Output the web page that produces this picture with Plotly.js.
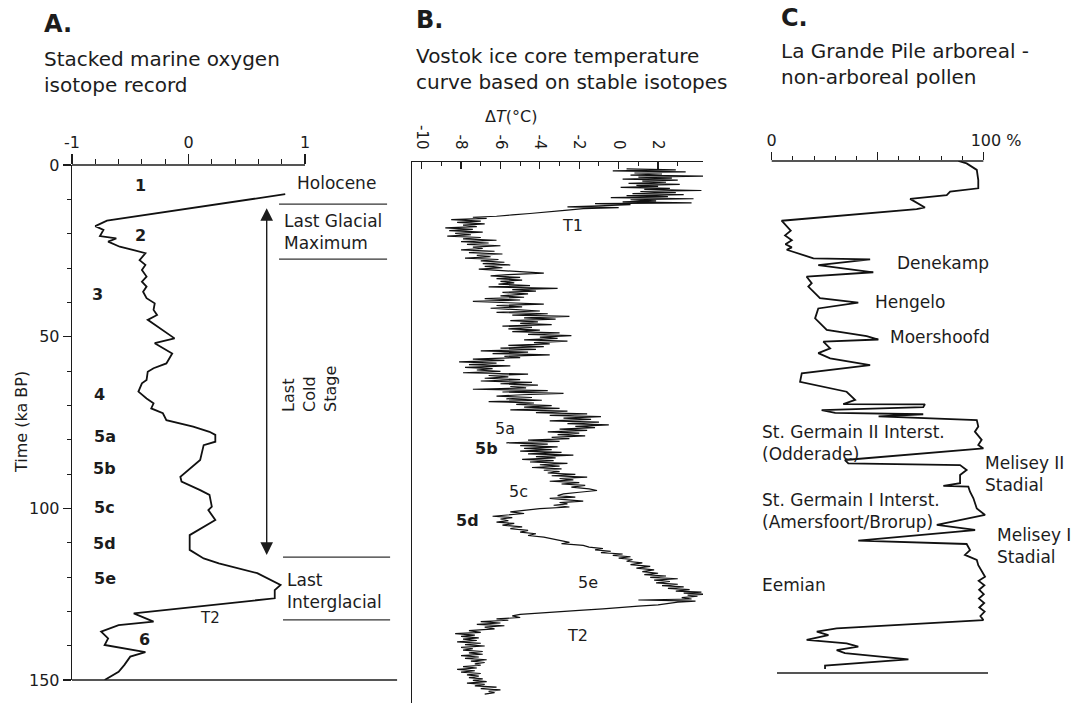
<!DOCTYPE html>
<html><head><meta charset="utf-8">
<script src="https://cdn.plot.ly/plotly-3.0.1.min.js"></script>
<style>html,body{margin:0;padding:0;background:#fff}#chart{width:1075px;height:703px}</style>
</head><body><div id="chart"></div>
<script>
// ---------- Panel A: stacked marine oxygen isotope record ----------
const isoAge = [
  8.5, 16.2, 17.8, 18.9, 20.7, 21.4, 22.3, 23.8, 24.8, 25.7,
  27.7, 29.1, 30.6, 32.5, 34.0, 35.4, 36.9, 38.8, 40.3, 42.2,
  43.7, 45.1, 50.5, 51.9, 54.9, 57.8, 59.2, 60.2, 62.6, 63.6,
  66.0, 68.0, 69.4, 70.9, 72.3, 74.3, 76.2, 77.7, 78.6, 80.6,
  81.6, 84.5, 85.9, 90.8, 92.2, 94.7, 96.1, 99.5, 100.5, 103.4,
  107.8, 112.1, 114.6, 116.0, 118.9, 122.3, 123.8, 126.2, 130.6, 133.0,
  134.0, 135.9, 137.9, 139.8, 141.9, 143.2, 145.6, 147.6, 150
];
const isoVal = [
  0.83, -0.70, -0.80, -0.73, -0.76, -0.62, -0.69, -0.59, -0.47, -0.37,
  -0.42, -0.37, -0.40, -0.36, -0.40, -0.36, -0.39, -0.36, -0.29, -0.30,
  -0.27, -0.35, -0.12, -0.29, -0.14, -0.19, -0.30, -0.35, -0.36, -0.40,
  -0.43, -0.36, -0.30, -0.32, -0.22, -0.19, 0.04, 0.18, 0.23, 0.23,
  0.13, 0.11, 0.10, -0.07, -0.06, 0.10, 0.18, 0.20, 0.17, 0.23,
  0.01, 0.01, 0.13, 0.26, 0.59, 0.79, 0.74, 0.74, -0.47, -0.30,
  -0.60, -0.75, -0.69, -0.72, -0.37, -0.50, -0.55, -0.60, -0.72
];
const isoTickVals = [-1, 0, 1];
const isoTickText = ['-1', '0', '1'];
const isoMinorVals = [-0.8, -0.6, -0.4, -0.2, 0.2, 0.4, 0.6, 0.8];
const timeTickVals = [0, 50, 100, 150];
const timeMinorVals = [10, 20, 30, 40, 60, 70, 80, 90, 110, 120, 130, 140];

// ---------- Panel B: Vostok temperature ----------
const vostokAge = [
  2.0,2.3,2.6,2.9,3.2,3.5,3.8,4.1,4.4,4.7,
  5.0,5.3,5.6,5.9,6.2,6.5,6.8,7.1,7.4,7.7,
  8.0,8.3,8.6,8.9,9.2,9.5,9.8,10.1,10.4,10.7,
  11.0,11.3,11.6,11.9,12.1,12.4,12.8,13.1,13.3,13.6,
  14.0,14.5,15.0,15.4,15.8,16.1,
  16.4,16.8,17.2,17.6,18.0,18.4,18.8,19.2,19.6,20.0,
  20.4,20.8,21.2,21.6,22.0,22.4,22.8,23.2,23.6,24.0,
  24.4,24.8,25.2,25.6,26.0,26.4,26.8,27.2,27.6,28.0,
  28.4,28.8,29.2,29.6,30.0,30.4,30.8,31.2,31.6,32.0,
  32.4,32.8,33.2,33.6,34.0,34.4,34.8,35.2,35.6,36.0,
  36.4,36.8,37.2,37.6,38.0,38.4,39.0,39.4,39.8,40.2,
  40.6,41.0,41.4,41.8,42.2,42.6,43.0,43.4,43.8,44.2,
  44.6,45.0,45.4,45.8,46.2,46.6,47.0,47.4,47.8,48.2,
  48.6,49.0,49.4,49.8,50.2,50.6,51.0,51.4,51.8,52.2,
  52.6,53.0,53.4,53.8,54.2,54.6,55.0,55.4,55.8,56.2,
  56.6,57.0,57.4,57.8,58.2,58.6,59.0,59.4,59.8,60.2,
  60.6,61.0,61.4,61.8,62.2,62.6,63.0,63.4,63.8,64.2,
  64.6,65.0,65.4,65.8,66.2,66.6,67.0,67.4,67.8,68.2,
  68.6,69.0,69.4,69.8,70.2,70.6,71.0,71.4,71.8,72.2,
  72.6,73.0,73.4,73.8,74.2,74.6,75.0,75.4,75.8,76.2,
  76.6,77.0,77.4,77.8,78.2,78.6,79.0,79.4,79.8,80.2,
  80.6,81.0,81.4,81.8,82.2,82.6,83.0,83.4,83.8,84.2,
  84.6,85.0,85.4,85.8,86.2,86.6,87.0,87.4,87.8,88.2,
  88.6,89.0,89.4,89.8,90.2,90.6,91.0,91.4,91.8,92.2,
  92.6,93.0,93.4,93.8,94.2,94.7,95.2,95.7,96.2,96.7,
  97.2,97.6,98.0,98.4,98.8,99.2,99.6,100.0,100.5,101.0,
  101.5,101.9,102.4,102.8,103.2,103.6,104.0,104.5,104.9,105.3,
  105.8,106.3,106.8,107.3,107.8,108.3,108.8,109.3,109.8,110.3,
  110.8,111.2,111.7,112.2,112.6,113.0,113.4,113.8,114.2,114.6,
  115.0,115.4,115.8,116.3,116.8,117.3,117.8,118.3,118.8,119.3,
  119.8,120.2,120.6,121.0,121.4,121.8,122.2,122.6,123.0,123.4,
  123.8,124.2,124.6,125.0,125.3,125.6,125.9,126.2,126.5,126.9,
  127.3,127.6,127.9,128.2,128.6,129.0,129.4,129.8,130.2,130.6,
  131.0,131.4,131.8,132.2,132.7,133.1,133.5,133.9,134.3,134.7,
  135.1,135.5,136.0,136.5,137.0,137.4,137.8,138.2,138.6,139.0,
  139.4,139.8,140.2,140.6,141.0,141.4,141.8,142.2,142.6,143.0,
  143.4,143.8,144.2,144.6,145.0,145.4,145.8,146.2,146.6,147.0,
  147.4,147.8,148.2,148.6,149.0,149.4,149.8,150.2,150.6,151.0,
  151.4,151.8,152.2,152.6,153.0,153.4,153.8,154.2,154.6,155.0
];
const vostokT = [
  0.4,2.9,-0.3,3.4,0.8,2.2,0.6,4.3,1.0,2.7,
  0.2,3.0,1.2,2.4,0.5,3.1,0.9,2.0,0.1,2.6,
  1.3,4.2,1.1,2.9,0.7,3.3,0.4,2.5,-0.4,3.8,
  0.6,1.9,0.2,3.7,-1.2,0.6,-1.0,-2.6,0.0,-1.8,
  -2.6,-3.8,-4.5,-5.4,-6.2,-7.4,
  -6.7,-8.5,-7.0,-8.2,-6.8,-7.9,-7.2,-8.8,-7.4,-8.6,
  -6.9,-8.3,-7.5,-8.7,-7.0,-7.9,-6.2,-8.0,-6.6,-7.7,
  -6.0,-7.4,-6.9,-8.0,-6.3,-7.6,-5.9,-7.2,-6.5,-7.8,
  -6.1,-7.0,-5.8,-6.9,-5.5,-6.8,-5.9,-7.1,-6.0,-5.2,
  -3.8,-5.6,-6.5,-5.0,-6.2,-4.9,-6.0,-5.3,-6.1,-4.5,
  -6.6,-3.1,-5.4,-4.2,-5.9,-4.6,-6.0,-4.8,-6.8,-5.0,
  -7.4,-5.6,-3.8,-6.2,-4.9,-6.5,-5.2,-4.0,-6.2,-3.6,
  -5.4,-2.5,-4.8,-3.2,-5.5,-4.1,-5.0,-3.4,-5.9,-4.4,
  -5.6,-4.0,-5.4,-3.0,-4.6,-2.4,-4.0,-3.1,-4.8,-2.6,
  -4.3,-3.5,-5.6,-3.8,-6.0,-4.2,-7.0,-4.6,-6.4,-3.5,
  -5.8,-5.0,-7.4,-5.8,-8.1,-6.2,-7.6,-5.5,-7.8,-6.4,
  -7.2,-6.0,-7.9,-4.6,-6.6,-5.6,-6.8,-5.0,-7.0,-4.4,
  -6.0,-4.1,-5.5,-4.7,-7.4,-3.6,-5.9,-2.8,-4.9,-6.2,
  -4.4,-5.7,-3.9,-6.6,-4.3,-5.2,-3.4,-4.8,-3.0,-5.5,
  -2.6,-4.2,-1.6,-3.5,-0.9,-2.8,-1.4,-3.5,-1.0,-2.6,
  -0.5,-2.2,-1.2,-3.0,-1.6,-3.6,-2.0,-3.1,-1.7,-3.4,
  -2.5,-4.6,-3.0,-5.7,-3.6,-5.0,-3.1,-4.8,-3.4,-5.0,
  -2.9,-4.6,-2.3,-4.2,-3.2,-4.9,-3.3,-4.5,-2.6,-4.0,
  -3.0,-4.4,-2.9,-3.8,-3.0,-3.6,-2.2,-3.4,-1.6,-3.0,
  -2.3,-3.5,-2.0,-2.9,-1.7,-2.4,-1.5,-1.1,-2.0,-2.8,
  -3.1,-2.2,-3.5,-2.4,-1.8,-3.0,-2.6,-3.3,-2.5,-4.0,
  -5.0,-5.5,-4.8,-5.7,-6.4,-5.4,-6.0,-5.6,-6.2,-5.3,
  -5.9,-4.9,-5.5,-4.6,-5.0,-4.2,-4.6,-3.8,-3.4,-3.0,
  -2.5,-2.9,-1.8,-1.5,-0.8,-1.2,-0.4,-0.9,0.2,-0.3,
  0.6,0.0,0.7,0.4,1.2,0.6,1.6,0.9,1.8,1.2,
  2.0,1.3,2.4,1.6,3.0,1.8,2.6,1.9,3.0,2.2,
  3.3,2.5,3.6,2.9,4.2,3.3,4.5,3.5,4.0,3.2,
  3.7,1.0,3.9,3.0,2.6,2.0,1.0,0.2,-0.8,-2.0,
  -3.2,-4.3,-5.0,-5.4,-5.0,-6.2,-5.6,-7.0,-6.0,-7.2,
  -5.8,-6.8,-6.3,-7.6,-7.0,-8.3,-7.3,-8.0,-7.1,-7.9,
  -7.2,-8.2,-7.0,-7.8,-6.8,-8.0,-7.4,-7.9,-6.9,-7.6,
  -6.9,-8.0,-7.1,-7.8,-6.7,-7.5,-6.8,-7.3,-7.0,-7.9,
  -7.2,-8.2,-7.3,-8.0,-7.0,-7.7,-7.1,-7.6,-6.9,-7.4,
  -6.7,-7.7,-6.8,-7.3,-6.2,-7.0,-6.0,-6.6,-6.3,-6.8
];
const tempTickVals = [-10, -8, -6, -4, -2, 0, 2];
const tempTickText = ['-10', '-8', '-6', '-4', '-2', '0', '2'];
const tempMinorVals = [-9, -7, -5, -3, -1, 1, 3];

// ---------- Panel C: La Grande Pile arboreal pollen ----------
const pollenAge = [
  0, 0.7, 2.6, 5.6, 8.0, 9.0, 10.0, 11.1, 13.6, 14.1,
  17.5, 20.4, 21.8, 23.2, 24.4, 25.3, 26.0, 27.0, 28.5, 28.8,
  30.5, 32.6, 33.9, 35.8, 36.8, 40.2, 41.5, 43.2, 46.1, 49.5,
  51.3, 52.3, 52.9, 54.9, 56.3, 57.8, 59.8, 62.2, 64.7, 67.6,
  70.0, 71.2, 71.3, 72.1, 73.0, 73.8, 74.2, 74.8, 75.9, 77.8,
  79.3, 81.7, 83.2, 84.2, 87.6, 88.6, 89.1, 90.5, 92.0, 94.4,
  95.2, 95.4, 96.9, 98.8, 101.8, 103.7, 106.6, 108.1, 108.6, 111.2,
  112.2, 114.0, 115.4, 116.9, 118.4, 121.8, 123.0, 124.3, 125.6, 126.9,
  128.2, 129.5, 130.8, 132.0, 133.3, 134.5, 136.9, 137.9, 138.9, 140.3,
  141.3, 142.3, 143.3, 144.2, 146.0, 147.8, 148.8
];
const pollenAP = [
  88.2, 92.1, 96.9, 97.6, 97.6, 84.3, 82.7, 65.4, 72.4, 68.5,
  4.7, 9.0, 6.3, 9.5, 6.5, 9.5, 7.1, 11.8, 19.7, 46.5,
  22.0, 48.0, 16.5, 18.9, 17.3, 22.8, 40.9, 22.0, 20.5, 26.0,
  44.9, 50.4, 24.4, 27.6, 22.0, 27.6, 46.5, 14.2, 13.4, 35.4,
  39.4, 33.8, 72.4, 71.6, 23.6, 30.0, 71.6, 50.5, 96.9, 97.6,
  96.0, 99.2, 97.6, 100.0, 34.6, 36.2, 89.0, 92.1, 89.0, 89.0,
  81.1, 92.9, 93.7, 95.3, 96.9, 100.8, 78.0, 96.1, 88.0, 40.9,
  92.1, 93.7, 91.3, 96.9, 97.6, 100.8, 97.8, 100.5, 98.0, 100.2,
  97.9, 100.4, 98.1, 100.6, 98.6, 100.0, 30.7, 21.3, 26.8, 16.5,
  35.4, 40.9, 30.7, 34.6, 64.6, 25.2, 25.2
];
const pollenTickVals = [0, 50, 100];
const pollenTickText = ['0', '', '\u2007\u2007\u00a0100\u00a0%'];
const pollenMinorVals = [10, 20, 30, 40, 60, 70, 80, 90];

// ---------- layout helpers ----------
const W = 1075, H = 703;
const dx = px => px / W;
const dy = py => 1 - py / H;
const FONT = 'DejaVu Sans';
const INK = '#1c1c1c';

const traces = [
  {x: isoVal, y: isoAge, xaxis: 'x', yaxis: 'y', type: 'scatter', mode: 'lines',
   line: {color: '#111', width: 1.8}, hoverinfo: 'skip'},
  {x: vostokT, y: vostokAge, xaxis: 'x2', yaxis: 'y2', type: 'scatter', mode: 'lines',
   line: {color: '#111', width: 1.2}, hoverinfo: 'skip'},
  {x: pollenAP, y: pollenAge, xaxis: 'x3', yaxis: 'y3', type: 'scatter', mode: 'lines',
   line: {color: '#111', width: 1.8}, hoverinfo: 'skip'}
];

const tickFont = {family: FONT, size: 16, color: INK};
const baseAx = {showgrid: false, zeroline: false, fixedrange: true, tickcolor: INK, linecolor: INK};

const layout = {
  width: W, height: H,
  margin: {l: 0, r: 0, t: 0, b: 0},
  paper_bgcolor: '#fff', plot_bgcolor: 'rgba(0,0,0,0)',
  showlegend: false,
  font: {family: FONT, color: INK},
  xaxis: Object.assign({}, baseAx, {
    domain: [dx(72), dx(400)], range: [-1, 1.815], anchor: 'y', side: 'top',
    showline: false, ticks: 'outside', tickmode: 'array',
    tickvals: isoTickVals, ticktext: isoTickText, ticklen: 10, tickwidth: 1.2,
    tickfont: tickFont,
    minor: {tickmode: 'array', tickvals: isoMinorVals, ticks: 'outside', ticklen: 5, tickwidth: 1, tickcolor: INK, showgrid: false}
  }),
  yaxis: Object.assign({}, baseAx, {
    domain: [dy(680), dy(165)], range: [150, 0], anchor: 'x',
    showline: true, linewidth: 1.3, ticks: 'outside', tickmode: 'array',
    tickvals: timeTickVals, ticklen: 8, tickwidth: 1.2, tickfont: tickFont,
    minor: {tickmode: 'array', tickvals: timeMinorVals, ticks: 'outside', ticklen: 4, tickwidth: 1, tickcolor: INK, showgrid: false}
  }),
  xaxis2: Object.assign({}, baseAx, {
    domain: [dx(412), dx(703)], range: [-10.49, 4.28], anchor: 'y2', side: 'top',
    showline: true, linewidth: 1.3, ticks: 'inside', tickmode: 'array',
    tickvals: tempTickVals, ticktext: tempTickText, tickangle: 90, ticklen: 7, tickwidth: 1.2,
    tickfont: {family: FONT, size: 15, color: INK}, ticklabelstandoff: 6,
    minor: {tickmode: 'array', tickvals: tempMinorVals, ticks: 'inside', ticklen: 4, tickwidth: 1, tickcolor: INK, showgrid: false}
  }),
  yaxis2: Object.assign({}, baseAx, {
    domain: [0, dy(162)], range: [157.6, 0], anchor: 'x2',
    showline: true, linewidth: 1.3, ticks: '', showticklabels: false
  }),
  xaxis3: Object.assign({}, baseAx, {
    domain: [dx(740), 1], range: [-14.98, 143.3], anchor: 'y3', side: 'top',
    showline: false, ticks: 'outside', tickmode: 'array',
    tickvals: pollenTickVals, ticktext: pollenTickText, ticklen: 8, tickwidth: 1.2,
    tickfont: tickFont,
    minor: {tickmode: 'array', tickvals: pollenMinorVals, ticks: 'outside', ticklen: 4, tickwidth: 1, tickcolor: INK, showgrid: false}
  }),
  yaxis3: Object.assign({}, baseAx, {
    domain: [dy(673), dy(161)], range: [150, 0], anchor: 'x3',
    showline: false, ticks: '', showticklabels: false
  }),
  shapes: [
    // panel A top axis line and bottom line
    {type: 'line', xref: 'x', yref: 'y domain', x0: -1, x1: 1, y0: 1, y1: 1, line: {color: INK, width: 1.3}},
    {type: 'line', xref: 'x', yref: 'y domain', x0: -1, x1: 1.79, y0: 0, y1: 0, line: {color: INK, width: 1.4}},
    // panel A period separators
    {type: 'line', xref: 'x', yref: 'y', x0: 0.777, x1: 1.704, y0: 11.4, y1: 11.4, line: {color: '#333', width: 1.2}},
    {type: 'line', xref: 'x', yref: 'y', x0: 0.777, x1: 1.704, y0: 27.4, y1: 27.4, line: {color: '#333', width: 1.2}},
    {type: 'line', xref: 'x', yref: 'y', x0: 0.811, x1: 1.73, y0: 114.2, y1: 114.2, line: {color: '#333', width: 1.2}},
    {type: 'line', xref: 'x', yref: 'y', x0: 0.811, x1: 1.73, y0: 132.5, y1: 132.5, line: {color: '#333', width: 1.2}},
    // panel C top axis line and bottom line
    {type: 'line', xref: 'x3', yref: 'y3 domain', x0: 0, x1: 100, y0: 1, y1: 1, line: {color: INK, width: 1.3}},
    {type: 'line', xref: 'x3', yref: 'y3 domain', x0: 2.5, x1: 102.2, y0: 0, y1: 0, line: {color: INK, width: 1.4}}
  ],
  annotations: []
};

const ann = layout.annotations;
function txt(o) {
  ann.push(Object.assign({showarrow: false, font: {family: FONT, size: 17, color: INK}, align: 'left'}, o));
}
// Headings
txt({xref: 'paper', yref: 'paper', x: dx(42), y: dy(24), xanchor: 'left', yanchor: 'middle', text: '<b>A.</b>', font: {family: FONT, size: 24, color: INK}});
txt({xref: 'paper', yref: 'paper', x: dx(42), y: dy(72), xanchor: 'left', yanchor: 'middle', text: 'Stacked marine oxygen<br>isotope record', font: {family: FONT, size: 20, color: INK}});
txt({xref: 'paper', yref: 'paper', x: dx(414), y: dy(20), xanchor: 'left', yanchor: 'middle', text: '<b>B.</b>', font: {family: FONT, size: 24, color: INK}});
txt({xref: 'paper', yref: 'paper', x: dx(414), y: dy(69), xanchor: 'left', yanchor: 'middle', text: 'Vostok ice core temperature<br>curve based on stable isotopes', font: {family: FONT, size: 20, color: INK}});
txt({xref: 'paper', yref: 'paper', x: dx(779), y: dy(18), xanchor: 'left', yanchor: 'middle', text: '<b>C.</b>', font: {family: FONT, size: 24, color: INK}});
txt({xref: 'paper', yref: 'paper', x: dx(779), y: dy(64), xanchor: 'left', yanchor: 'middle', text: 'La Grande Pile arboreal -<br>non-arboreal pollen', font: {family: FONT, size: 20, color: INK}});
// axis titles
txt({xref: 'paper', yref: 'paper', x: dx(22), y: dy(422), xanchor: 'center', yanchor: 'middle', textangle: -90, text: 'Time (ka BP)', font: {family: FONT, size: 16, color: INK}});
txt({xref: 'x2', yref: 'paper', x: -5.47, y: dy(117), xanchor: 'center', yanchor: 'middle', text: '\u0394<i>T</i>(\u00b0C)', font: {family: FONT, size: 16, color: INK}});

// Panel A stage labels
const boldA = {family: FONT, size: 16, color: INK};
[['1', -0.416, 6.1], ['2', -0.416, 20.4], ['3', -0.785, 37.6], ['4', -0.768, 66.7],
 ['5a', -0.717, 79.2], ['5b', -0.717, 88.3], ['5c', -0.717, 99.9], ['5d', -0.717, 110.1],
 ['5e', -0.717, 120.3], ['6', -0.38, 138.1]].forEach(([t, x, y]) => {
  txt({xref: 'x', yref: 'y', x: x, y: y, xanchor: 'center', yanchor: 'middle', text: '<b>' + t + '</b>', font: boldA});
});
txt({xref: 'x', yref: 'y', x: 0.185, y: 132.0, xanchor: 'center', yanchor: 'middle', text: 'T2', font: {family: FONT, size: 15, color: INK}});
txt({xref: 'x', yref: 'y', x: 0.914, y: 5.2, xanchor: 'left', yanchor: 'middle', text: 'Holocene'});
txt({xref: 'x', yref: 'y', x: 0.803, y: 19.5, xanchor: 'left', yanchor: 'middle', text: 'Last Glacial<br>Maximum'});
txt({xref: 'x', yref: 'y', x: 0.828, y: 124.1, xanchor: 'left', yanchor: 'middle', text: 'Last<br>Interglacial'});
txt({xref: 'x', yref: 'y', x: 1.043, y: 65.2, xanchor: 'center', yanchor: 'middle', textangle: -90, text: 'Last<br>Cold<br>Stage', font: {family: FONT, size: 16, color: INK}});
// double-headed arrow (Last Cold Stage span)
ann.push({xref: 'x', yref: 'y', axref: 'x', ayref: 'y', x: 0.671, y: 12.6, ax: 0.671, ay: 114.0,
  text: '', showarrow: true, arrowside: 'end+start', arrowhead: 2, arrowsize: 1.8, arrowwidth: 1.4,
  arrowcolor: INK, standoff: 0, startstandoff: 0});

// Panel B labels
[['T1', -2.32, 18.4, false], ['5a', -5.77, 77.5, false], ['5b', -6.69, 83.6, true],
 ['5c', -5.11, 96.1, false], ['5d', -7.65, 104.3, true], ['5e', -1.56, 122.6, false],
 ['T2', -2.11, 137.8, false]].forEach(([t, x, y, b]) => {
  txt({xref: 'x2', yref: 'y2', x: x, y: y, xanchor: 'center', yanchor: 'middle',
       text: b ? '<b>' + t + '</b>' : t, font: {family: FONT, size: 16, color: INK}});
});

// Panel C labels
[['Denekamp', 58.3, 29.9], ['Hengelo', 47.9, 41.3], ['Moershoofd', 54.9, 51.6],
 ['St. Germain II Interst.<br>(Odderade)', -5.5, 82.5], ['Melisey II<br>Stadial', 99.9, 91.7],
 ['St. Germain I Interst.<br>(Amersfoort/Brorup)', -5.5, 102.5], ['Melisey I<br>Stadial', 105.5, 112.8],
 ['Eemian', -5.5, 124.2]].forEach(([t, x, y]) => {
  txt({xref: 'x3', yref: 'y3', x: x, y: y, xanchor: 'left', yanchor: 'middle', text: t});
});

Plotly.newPlot('chart', traces, layout, {staticPlot: true, displayModeBar: false});
</script>
</body></html>
